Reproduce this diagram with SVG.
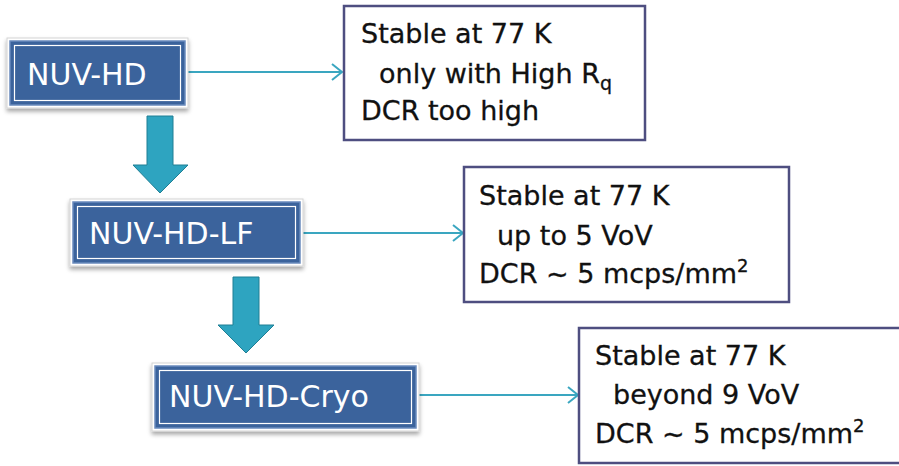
<svg xmlns="http://www.w3.org/2000/svg" width="899" height="466" viewBox="0 0 899 466">
<defs>
<filter id="sh" x="-10%" y="-20%" width="120%" height="150%">
<feDropShadow dx="0" dy="3" stdDeviation="2" flood-color="#000" flood-opacity="0.35"/>
</filter>
<marker id="chev" markerWidth="14" markerHeight="18" refX="11" refY="9" orient="auto" markerUnits="userSpaceOnUse">
<path d="M1,1 L11,9 L1,17" fill="none" stroke="#3aa6c0" stroke-width="2"/>
</marker>
<style>
.outer{fill:#ffffff;stroke:#d4d4d4;stroke-width:1}
.blue{fill:#3b639c;stroke:#6a8bbd;stroke-width:1.5}
.inner{fill:none;stroke:#ffffff;stroke-width:1.2}
.ntxt{font-family:"DejaVu Sans",sans-serif;font-size:30px;fill:#ffffff}
.box{fill:#ffffff;stroke:#4e4e80;stroke-width:2.5}
.btxt{font-family:"DejaVu Sans",sans-serif;font-size:27px;fill:#111111;stroke:#111111;stroke-width:0.3}
.conn{stroke:#3aa6c0;stroke-width:1.8;fill:none}
.down{fill:#2ea4c0;stroke:#1f7f94;stroke-width:1}
</style>
</defs>
<g id="connectors">
<line class="conn" x1="188" y1="72" x2="342" y2="72" marker-end="url(#chev)"/>
<line class="conn" x1="303" y1="233" x2="463" y2="233" marker-end="url(#chev)"/>
<line class="conn" x1="419" y1="395" x2="578" y2="395" marker-end="url(#chev)"/>
<polygon class="down" points="147,116 173,116 173,165 188,165 160,193 133,165 147,165"/>
<polygon class="down" points="233,277 259,277 259,325 274,325 246,353 218,325 233,325"/>
</g>
<g id="node-nuv-hd">
<rect class="outer" x="7" y="38" width="181" height="70" filter="url(#sh)"/>
<rect class="blue" x="10" y="41" width="175" height="64"/>
<rect class="inner" x="14.5" y="45.5" width="166" height="55"/>
<text class="ntxt" x="27" y="85">NUV-HD</text>
</g>
<g id="node-nuv-hd-lf">
<rect class="outer" x="70" y="199" width="233" height="67" filter="url(#sh)"/>
<rect class="blue" x="73" y="202" width="227" height="61"/>
<rect class="inner" x="77.5" y="206.5" width="218" height="52"/>
<text class="ntxt" x="89" y="244">NUV-HD-LF</text>
</g>
<g id="node-nuv-hd-cryo">
<rect class="outer" x="152" y="363" width="267" height="68" filter="url(#sh)"/>
<rect class="blue" x="155" y="366" width="261" height="62"/>
<rect class="inner" x="159.5" y="370.5" width="252" height="53"/>
<text class="ntxt" x="169" y="407">NUV-HD-Cryo</text>
</g>
<g id="box1">
<rect class="box" x="344" y="6" width="301" height="134"/>
<text class="btxt" x="361" y="43">Stable at 77 K</text>
<text class="btxt" x="379" y="83">only with High R<tspan font-size="19" dy="7">q</tspan></text>
<text class="btxt" x="361" y="120">DCR too high</text>
</g>
<g id="box2">
<rect class="box" x="464" y="167" width="325" height="135"/>
<text class="btxt" x="479" y="205">Stable at 77 K</text>
<text class="btxt" x="497" y="245">up to 5 VoV</text>
<text class="btxt" x="479" y="283">DCR ~ 5 mcps/mm<tspan font-size="18" dy="-11">2</tspan></text>
</g>
<g id="box3">
<rect class="box" x="579" y="328" width="330" height="135"/>
<text class="btxt" x="595" y="365">Stable at 77 K</text>
<text class="btxt" x="613" y="404">beyond 9 VoV</text>
<text class="btxt" x="595" y="443">DCR ~ 5 mcps/mm<tspan font-size="18" dy="-11">2</tspan></text>
</g>
</svg>
